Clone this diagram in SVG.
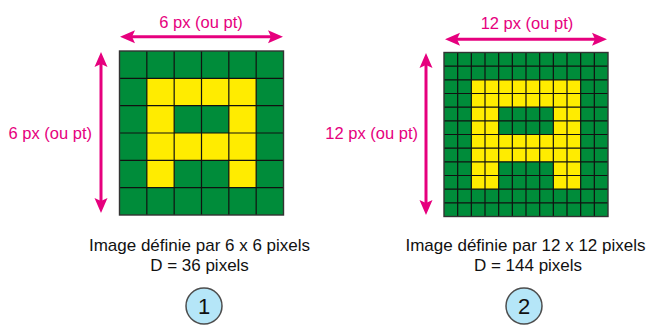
<svg xmlns="http://www.w3.org/2000/svg" width="652" height="325" viewBox="0 0 652 325">
  <style>
    .bg { fill: #ffffff; }
    .green { fill: #008C3A; }
    .yellow { fill: #FFEC00; }
    .gridline { fill: none; stroke: #111111; stroke-width: 1.2; }
    .frame { fill: none; stroke: #333333; stroke-width: 1.4; }
    .dim { stroke: #E6007E; stroke-width: 3; fill: none; marker-start: url(#tip); marker-end: url(#tip); }
    .dimlabel { font-family: "Liberation Sans", Arial, sans-serif; font-size: 16.5px; fill: #E6007E; }
    .caption { font-family: "Liberation Sans", Arial, sans-serif; font-size: 17px; fill: #111111; text-anchor: middle; }
    .badge { fill: #B5E6F8; stroke: #4d4d4d; stroke-width: 1.5; }
    .badgenum { font-family: "Liberation Sans", Arial, sans-serif; font-size: 22px; fill: #111111; text-anchor: middle; }
  </style>
  <defs>
    <marker id="tip" viewBox="0 -7 16 14" refX="10" refY="0" markerWidth="16" markerHeight="14" markerUnits="userSpaceOnUse" orient="auto-start-reverse">
      <path d="M0,-6.5 L15,0 L0,6.5 L3,0 Z" fill="#E6007E"/>
    </marker>
  </defs>

  <rect class="bg" x="0" y="0" width="652" height="325"/>

  <!-- 6 x 6 pixel letter -->
  <g id="grid6">
    <rect class="green" x="119.5" y="51" width="164" height="164"/>
    <rect class="yellow" x="146.83" y="78.33" width="109.33" height="109.33"/>
    <rect class="green" x="174.17" y="105.67" width="54.67" height="27.33"/>
    <rect class="green" x="174.17" y="160.33" width="54.67" height="27.33"/>
    <path class="gridline" d="M146.83,51V215 M174.17,51V215 M201.5,51V215 M228.83,51V215 M256.17,51V215
                              M119.5,78.33H283.5 M119.5,105.67H283.5 M119.5,133H283.5 M119.5,160.33H283.5 M119.5,187.67H283.5"/>
    <rect class="frame" x="119.5" y="51" width="164" height="164"/>
  </g>

  <!-- 12 x 12 pixel letter -->
  <g id="grid12">
    <rect class="green" x="444" y="52.5" width="164" height="164"/>
    <rect class="yellow" x="471.33" y="79.83" width="109.33" height="109.33"/>
    <rect class="green" x="498.67" y="107.17" width="54.67" height="27.33"/>
    <rect class="green" x="498.67" y="161.83" width="54.67" height="27.33"/>
    <path class="gridline" d="M457.67,52.5V216.5 M471.33,52.5V216.5 M485,52.5V216.5 M498.67,52.5V216.5 M512.33,52.5V216.5 M526,52.5V216.5
                              M539.67,52.5V216.5 M553.33,52.5V216.5 M567,52.5V216.5 M580.67,52.5V216.5 M594.33,52.5V216.5
                              M444,66.17H608 M444,79.83H608 M444,93.5H608 M444,107.17H608 M444,120.83H608 M444,134.5H608
                              M444,148.17H608 M444,161.83H608 M444,175.5H608 M444,189.17H608 M444,202.83H608"/>
    <rect class="frame" x="444" y="52.5" width="164" height="164"/>
  </g>

  <!-- dimension arrows -->
  <g id="connectors">
    <line class="dim" x1="125" y1="36.7" x2="278" y2="36.7"/>
    <line class="dim" x1="101" y1="57" x2="101" y2="208"/>
    <line class="dim" x1="450" y1="39.3" x2="602" y2="39.3"/>
    <line class="dim" x1="426" y1="58" x2="426" y2="210"/>
  </g>

  <g id="labels6">
    <text class="dimlabel" x="201" y="28" text-anchor="middle">6 px (ou pt)</text>
    <text class="dimlabel" x="92" y="139" text-anchor="end">6 px (ou pt)</text>
  </g>
  <g id="labels12">
    <text class="dimlabel" x="527" y="29" text-anchor="middle">12 px (ou pt)</text>
    <text class="dimlabel" x="418" y="139" text-anchor="end">12 px (ou pt)</text>
  </g>

  <g id="caption6">
    <text class="caption" x="199.5" y="251">Image définie par 6 x 6 pixels</text>
    <text class="caption" x="199.5" y="271">D = 36 pixels</text>
  </g>
  <g id="caption12">
    <text class="caption" x="525.5" y="251">Image définie par 12 x 12 pixels</text>
    <text class="caption" x="528" y="271">D = 144 pixels</text>
  </g>

  <g id="badge1">
    <circle class="badge" cx="204" cy="306" r="18"/>
    <text class="badgenum" x="204" y="314">1</text>
  </g>
  <g id="badge2">
    <circle class="badge" cx="524" cy="306" r="18"/>
    <text class="badgenum" x="524" y="314">2</text>
  </g>
</svg>
